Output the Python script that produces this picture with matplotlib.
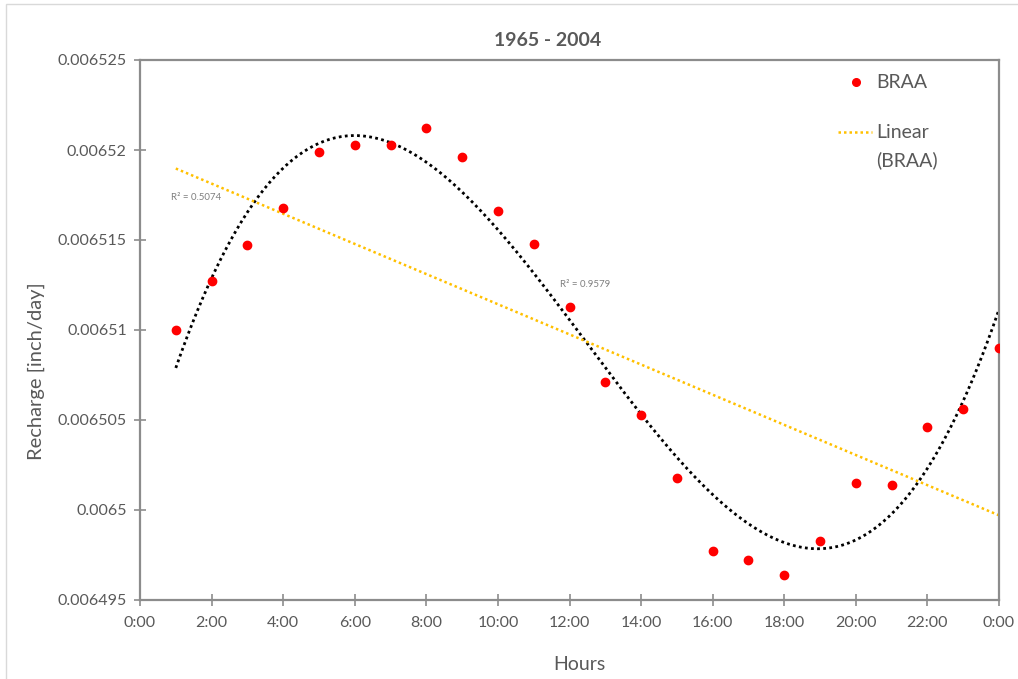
import numpy as np
import matplotlib
matplotlib.use('Agg')
import matplotlib.pyplot as plt
from matplotlib.ticker import FuncFormatter, MultipleLocator
from matplotlib.patches import Rectangle

plt.rcParams['font.family'] = ['Lato', 'DejaVu Sans']

# Data (hour of day, recharge in inch/day)
hours = np.arange(1, 25)
recharge = np.array([
    0.0065100, 0.0065127, 0.0065147, 0.0065168, 0.0065199, 0.0065203,
    0.0065203, 0.0065212, 0.0065196, 0.0065166, 0.0065148, 0.0065113,
    0.0065071, 0.0065053, 0.0065018, 0.0064977, 0.0064972, 0.0064964,
    0.0064983, 0.0065015, 0.0065014, 0.0065046, 0.0065056, 0.0065090,
])
title = '1965 - 2004'
series_name = 'BRAA'
r2_linear = 'R² = 0.5074'
r2_poly = 'R² = 0.9579'

grey = '#595959'
axis_grey = '#8c8c8c'
red = '#FF0000'
orange = '#FFC000'
dots = (0, (1, 1.2))

fig = plt.figure(figsize=(10.18, 6.79), dpi=100)
ax = fig.add_axes([140 / 1018, 1 - 600 / 679, 859 / 1018, 540 / 679])

# outer chart border (only left/top visible in the crop)
fig.patches.append(Rectangle((6 / 1018, -0.1), 1.2, 1 - 4 / 679 + 0.1,
                             transform=fig.transFigure, fill=False,
                             edgecolor='#d9d9d9', linewidth=1.0))

# trendlines fitted from the points, like Excel does
xs = np.linspace(hours.min(), hours.max(), 300)
lin = np.polyfit(hours, recharge, 1)
cub = np.polyfit(hours, recharge, 3)
ax.plot(xs, np.polyval(cub, xs), color='black', linestyle=dots, lw=2.0)
ax.plot(xs, np.polyval(lin, xs), color=orange, linestyle=dots, lw=1.8)
ax.plot(hours, recharge, 'o', color=red, markersize=6, zorder=5)

ax.text(0.036, 0.74, r2_linear, transform=ax.transAxes, fontsize=7, color='#7f7f7f')
ax.text(0.489, 0.58, r2_poly, transform=ax.transAxes, fontsize=7, color='#7f7f7f')

ax.set_xlim(0, 24)
ax.set_ylim(0.006495, 0.006525)
ax.xaxis.set_major_locator(MultipleLocator(2))
ax.yaxis.set_major_locator(MultipleLocator(0.000005))
ax.xaxis.set_major_formatter(FuncFormatter(lambda v, p: '%d:00' % (int(round(v)) % 24)))
ax.yaxis.set_major_formatter(FuncFormatter(lambda v, p: ('%.6f' % v).rstrip('0')))

for s in ax.spines.values():
    s.set_color(axis_grey)
    s.set_linewidth(1.6)
ax.tick_params(direction='inout', length=9, width=1.2, color=axis_grey,
               labelcolor=grey, labelsize=11.5, pad=5)
ax.tick_params(axis='x', pad=7)

fig.text(548 / 1018, 1 - 40 / 679, title, fontsize=14, fontweight='bold',
         color=grey, ha='center', va='center')
fig.text(579 / 1018, 1 - 665 / 679, 'Hours', fontsize=14, color=grey,
         ha='center', va='center')
fig.text(36 / 1018, 1 - 371 / 679, 'Recharge [inch/day]', fontsize=14.5,
         color=grey, ha='center', va='center', rotation=90)

# legend drawn by hand (Excel style: handle level with first text line)
tr = ax.transAxes
ax.plot([(856 - 140) / 859], [(600 - 82) / 540], 'o', color=red,
        markersize=5.5, transform=tr, clip_on=False)
ax.text((876 - 140) / 859, (600 - 82) / 540, series_name, transform=tr,
        fontsize=14, color=grey, va='center', ha='left')
ax.plot([(838 - 140) / 859, (872 - 140) / 859], [(600 - 132) / 540] * 2,
        color=orange, linestyle=dots, lw=1.8, transform=tr, clip_on=False)
ax.text((876 - 140) / 859, (600 - 132) / 540, 'Linear', transform=tr,
        fontsize=14, color=grey, va='center', ha='left')
ax.text((876 - 140) / 859, (600 - 160) / 540, '(' + series_name + ')', transform=tr,
        fontsize=14, color=grey, va='center', ha='left')

fig.savefig('out.png', dpi=100, facecolor='white')
